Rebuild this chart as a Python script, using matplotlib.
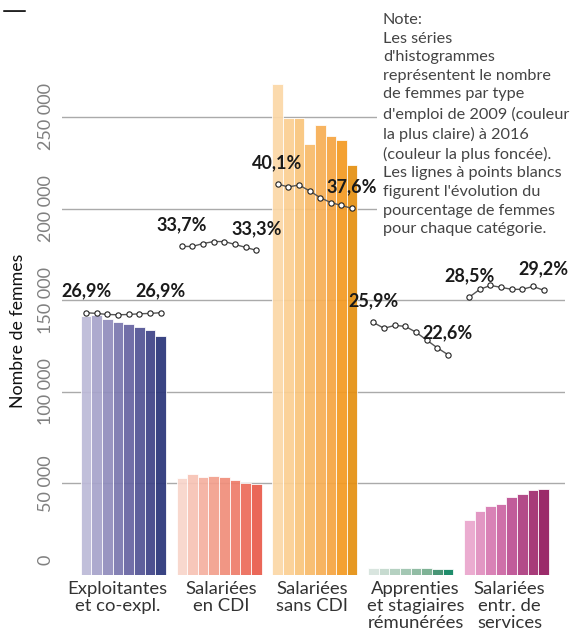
import matplotlib
matplotlib.use('Agg')
import matplotlib.pyplot as plt
import matplotlib.transforms as mtransforms
import numpy as np

plt.rcParams['font.family'] = ['Lato', 'DejaVu Sans']

# categories (libellés sous chaque groupe)
categories = ['Exploitantes\net co-expl.', 'Salariées\nen CDI', 'Salariées\nsans CDI',
              'Apprenties\net stagiaires\nrémunérées', 'Salariées\nentr. de\nservices']
annees = [2009, 2010, 2011, 2012, 2013, 2014, 2015, 2016]

# nombre de femmes par année (2009 -> 2016)
exploitantes = [141500, 141700, 139700, 138300, 137000, 135600, 134000, 130500]
cdi = [53100, 55000, 53500, 54200, 53500, 51900, 50400, 49900]
sans_cdi = [267800, 249600, 249300, 235300, 245500, 239500, 237400, 224000]
apprenties = [3700, 3650, 3750, 3750, 3700, 3700, 3400, 3350]
services = [30200, 35100, 37700, 38900, 42600, 44400, 46400, 47000]

# pourcentage de femmes
pct_exploitantes = [26.9, 26.83, 26.72, 26.69, 26.72, 26.79, 26.83, 26.9]
pct_cdi = [33.7, 33.7, 34.0, 34.2, 34.2, 33.9, 33.6, 33.3]
pct_sans_cdi = [40.1, 39.8, 40.0, 39.4, 38.7, 38.2, 37.9, 37.6]
pct_apprenties = [25.9, 25.3, 25.6, 25.5, 24.9, 24.1, 23.3, 22.6]
pct_services = [28.5, 29.3, 29.7, 29.5, 29.3, 29.3, 29.6, 29.2]

couleurs = [
    ['#bdbad8', '#a7a4cb', '#918dbd', '#7b78af', '#6764a2', '#535495', '#3f4488', '#2b367a'],
    ['#f8d5cb', '#f7c3b5', '#f5b1a0', '#f3a08d', '#f08e7b', '#ee7d6a', '#ec6c5a', '#e95b4b'],
    ['#fbd8a7', '#fbcf92', '#f9c57d', '#f8ba69', '#f7af55', '#f6a541', '#f49a22', '#e59012'],
    ['#d6e4dd', '#c3d9cd', '#b0cebd', '#9cc3ad', '#89b79d', '#74ac8d', '#3a8d6b', '#0e8460'],
    ['#eaa6cd', '#e08fbf', '#d679b1', '#cc65a3', '#bd5092', '#ae3d80', '#a12c6f', '#941b5f'],
]
decalage_libelle = [-6, 2, -3, 5, 3]

valeurs = [exploitantes, cdi, sans_cdi, apprenties, services]
pourcentages = [pct_exploitantes, pct_cdi, pct_sans_cdi, pct_apprenties, pct_services]

W, H = 570, 633
fig = plt.figure(figsize=(W / 100, H / 100), dpi=100)
ax = fig.add_axes([62 / W, 58 / H, 503 / W, 549.6 / H])
ax2 = ax.twinx()

n = len(annees)
for g, (vals, pcts) in enumerate(zip(valeurs, pourcentages)):
    x = g * (n + 1) + np.arange(n)
    ax.bar(x, vals, width=1.0, color=couleurs[g], edgecolor=(1, 1, 1, 0.35),
           linewidth=0.6, alpha=0.93, zorder=2)
    ax2.plot(x, pcts, color='#555555', lw=1, marker='o', ms=3.8,
             mfc='white', mec='#222222', mew=0.8, zorder=3)
    for i in (0, n - 1):
        txt = f'{pcts[i]:.1f}'.replace('.', ',') + '%'
        ax2.annotate(txt, (x[i], pcts[i]), xytext=(0, 15.5), textcoords='offset points',
                     ha='center', va='center', fontsize=13, fontweight='bold',
                     color='#1a1a1a', zorder=5)
    ax.annotate(categories[g], (x.mean(), 0), xytext=(decalage_libelle[g] * 0.72, -4),
                textcoords='offset points', ha='center', va='top', fontsize=13.3,
                color='#333333', linespacing=1.08, annotation_clip=False)

ax.set_xlim(-2.26, 45.0)
ax.set_ylim(0, 300000)
ax2.set_ylim(0, 56.37)
ax2.set_yticks([])

# grille horizontale
ticks = [0, 50000, 100000, 150000, 200000, 250000]
ax.set_yticks(ticks)
ax.set_yticklabels([f'{t:,}'.replace(',', ' ') for t in ticks], rotation=90,
                   va='center', color='#808080', fontsize=13)
ax.tick_params(axis='y', length=0, pad=6)
ax.set_xticks([])
for t in ticks[1:]:
    ax.axhline(t, color='#aaaaaa', lw=1, zorder=1)
# le "0" est remonté
lab0 = ax.get_yticklabels()[0]
lab0.set_transform(lab0.get_transform() + mtransforms.ScaledTranslation(0, 15 / 100, fig.dpi_scale_trans))

for a in (ax, ax2):
    for s in a.spines.values():
        s.set_visible(False)

fig.text(18 / W, 1 - 331 / H, 'Nombre de femmes', rotation=90, ha='center', va='center',
         fontsize=12.8, color='#111111')
fig.text(2 / W, 1 - 11 / H, '—', ha='left', va='center', fontsize=18,
         color='#222222', family='DejaVu Sans')

note = ("Note:\nLes séries\nd'histogrammes\nreprésentent le nombre\nde femmes par type\n"
        "d'emploi de 2009 (couleur\nla plus claire) à 2016\n(couleur la plus foncée).\n"
        "Les lignes à points blancs\nfigurent l'évolution du\npourcentage de femmes\n"
        "pour chaque catégorie.")
fig.text(383 / W, 1 - 13 / H, note, ha='left', va='top', fontsize=11.7, color='#444444',
         linespacing=1.42, bbox=dict(facecolor='white', edgecolor='none', pad=4), zorder=10)

plt.savefig('out.png', dpi=100)
